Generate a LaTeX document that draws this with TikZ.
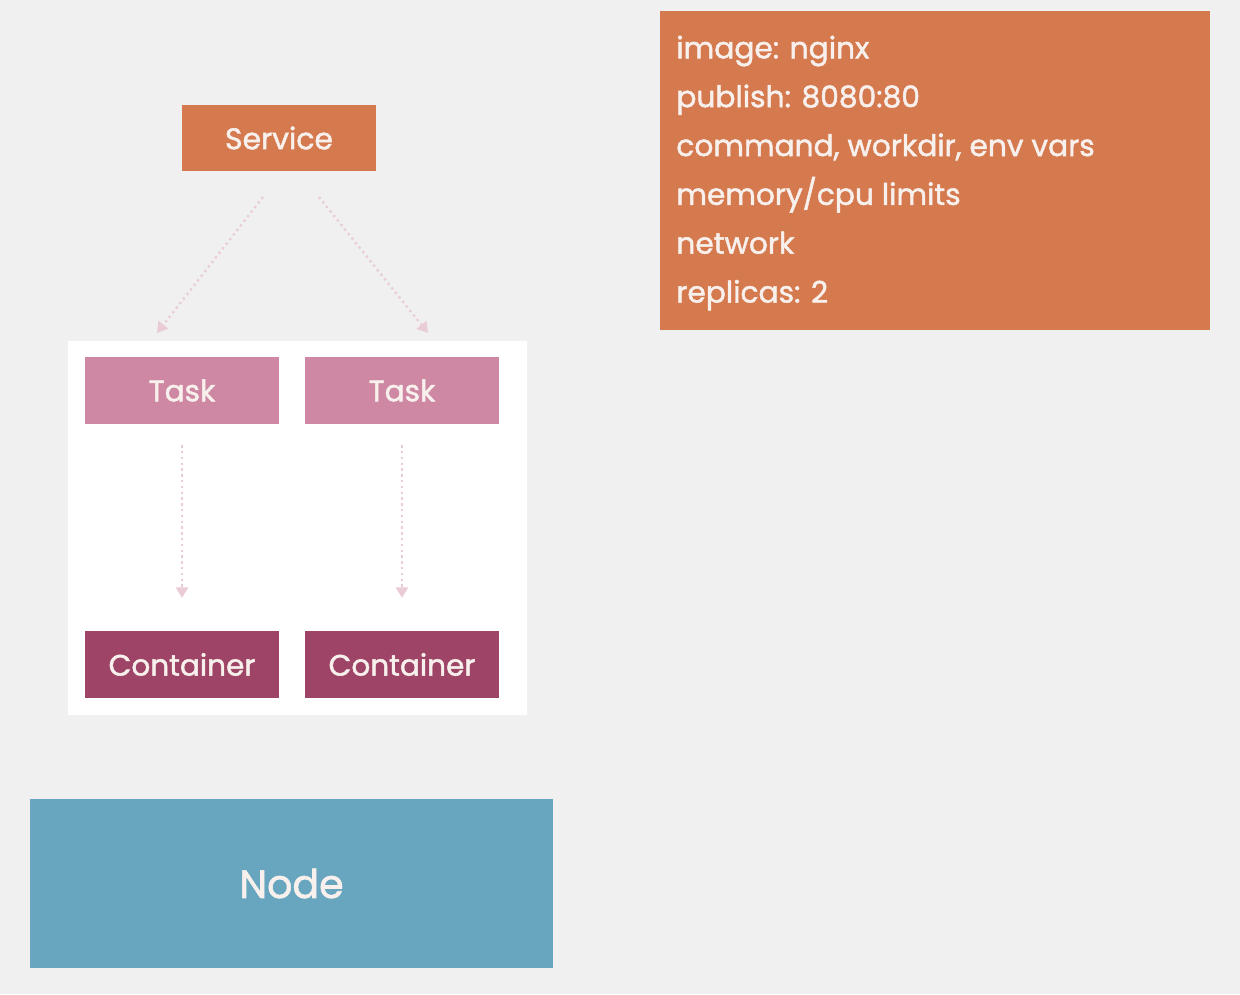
\documentclass[tikz,border=0pt]{standalone}
\usepackage{fontspec}
\setmainfont{Poppins}[FakeBold=1.6,BoldFont=Poppins]
\usetikzlibrary{arrows.meta}
\definecolor{bg}{HTML}{F0F0F0}
\definecolor{orng}{HTML}{D5794E}
\definecolor{taskc}{HTML}{CF88A4}
\definecolor{contc}{HTML}{9E4466}
\definecolor{nodec}{HTML}{68A6BF}
\definecolor{arrc}{HTML}{E9CCD5}
\definecolor{txtc}{HTML}{F7F0EC}
\begin{document}
\begin{tikzpicture}[x=0.02cm,y=-0.02cm,
  box/.style={rectangle, inner sep=0pt, text=txtc, minimum width=3.88cm, minimum height=1.34cm, font=\fontsize{16.8}{20}\selectfont\bfseries},
  flow/.style={draw=arrc, line width=1.3pt, dash pattern=on 1.3pt off 2pt, -{Triangle[length=6pt,width=7pt]}}
]
\fill[bg] (0,0) rectangle (1240,994);
\useasboundingbox (0,0) rectangle (1240,994);

% info box
\node[rectangle, fill=orng, inner sep=0pt, minimum width=11cm, minimum height=6.38cm, anchor=north west] (info) at (660,11) {};
\node[anchor=west, inner sep=0pt, align=left, text=txtc, font=\fontsize{16.9}{27.8}\selectfont\bfseries] (infotext) at (676,173)
 {image: nginx\\publish: 8080:80\\command, workdir, env vars\\memory/cpu limits\\network\\replicas: 2};

% service
\node[box, fill=orng, font=\fontsize{17}{20}\selectfont\bfseries] (service) at (279,138) {Service};

% white panel
\node[rectangle, fill=white, inner sep=0pt, minimum width=9.18cm, minimum height=7.48cm] (panel) at (297.5,528) {};

\node[box, fill=taskc] (t1) at (182,390.5) {Task};
\node[box, fill=taskc] (t2) at (402,390.5) {Task};
\node[box, fill=contc] (c1) at (182,664.5) {Container};
\node[box, fill=contc] (c2) at (402,664.5) {Container};

% node
\node[rectangle, fill=nodec, inner sep=0pt, minimum width=10.46cm, minimum height=3.38cm, text=txtc, font=\fontsize{22.5}{26}\selectfont\bfseries] (nd) at (291.5,883.5) {Node};

% arrows
\coordinate (s1) at (263,197);
\coordinate (e1) at (157,333);
\coordinate (s2) at (319,197);
\coordinate (e2) at (428,333);
\draw[flow] (s1) -- (e1);
\draw[flow] (s2) -- (e2);
\draw[flow] ([yshift=-11.9pt]t1.south) -- ([yshift=18.7pt]c1.north);
\draw[flow] ([yshift=-11.9pt]t2.south) -- ([yshift=18.7pt]c2.north);
\end{tikzpicture}
\end{document}
